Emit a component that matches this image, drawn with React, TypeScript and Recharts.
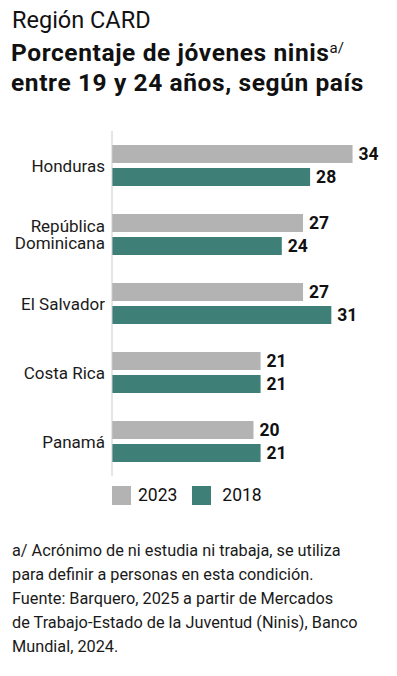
import React from 'react';
import { BarChart, Bar, XAxis, YAxis, LabelList } from 'recharts';

const countries = ['Honduras', 'República Dominicana', 'El Salvador', 'Costa Rica', 'Panamá'];
const values2023 = [34, 27, 27, 21, 20];
const values2018 = [28, 24, 31, 21, 21];
const seriesNames = ['2023', '2018'];

const GRAY = '#b3b3b3';
const TEAL = '#3e7f78';
const FONT = 'Roboto, "Noto Sans", sans-serif';

const chartData = countries.map((country, i) => ({
  country,
  y2023: values2023[i],
  y2018: values2018[i],
}));

function CountryTick(props: any) {
  const { x, y, payload } = props;
  const label: string = payload.value;
  const lines = label === 'República Dominicana' ? ['República', 'Dominicana'] : [label];
  const lineHeight = 16.5;
  const startY = y - ((lines.length - 1) * lineHeight) / 2;
  return (
    <text
      x={x}
      y={startY}
      textAnchor="end"
      dominantBaseline="central"
      fill="#1a1a1a"
      fontSize={17}
      fontFamily={FONT}
    >
      {lines.map((line, i) => (
        <tspan key={line} x={x} y={startY + i * lineHeight} dominantBaseline="central">
          {line}
        </tspan>
      ))}
    </text>
  );
}

export default function App() {
  return (
    <div
      style={{
        position: 'absolute',
        left: 0,
        top: 0,
        width: 397,
        height: 676,
        background: '#fff',
        fontFamily: FONT,
        color: '#111',
      }}
    >
      <div style={{ position: 'absolute', left: 12, top: 5, fontSize: 23.5, lineHeight: '30px' }}>
        Región CARD
      </div>
      <div
        style={{
          position: 'absolute',
          left: 11,
          top: 38,
          fontSize: 24.5,
          fontWeight: 700,
          lineHeight: '30px',
          letterSpacing: 0.6,
          whiteSpace: 'nowrap',
        }}
      >
        Porcentaje de jóvenes ninis
        <span style={{ fontSize: 15, fontWeight: 400, letterSpacing: 0, verticalAlign: 'top', lineHeight: '20px' }}>
          a/
        </span>
        <br />
        entre 19 y 24 años, según país
      </div>

      <div style={{ position: 'absolute', left: 0, top: 131 }}>
        <BarChart
          width={397}
          height={345}
          data={chartData}
          layout="vertical"
          margin={{ top: 0, right: 2, bottom: 0, left: 0 }}
          barCategoryGap={14}
          barGap={5}
        >
          <XAxis type="number" domain={[0, 40]} hide />
          <YAxis
            type="category"
            dataKey="country"
            width={112}
            axisLine={{ stroke: '#cccccc', strokeWidth: 1 }}
            tickLine={false}
            tickSize={0}
            tickMargin={7}
            interval={0}
            tick={<CountryTick />}
          />
          <Bar dataKey="y2023" name={seriesNames[0]} fill={GRAY} barSize={18} isAnimationActive={false}>
            <LabelList
              dataKey="y2023"
              position="right"
              offset={6}
              fill="#111"
              fontSize={17.5}
              fontWeight={700}
              fontFamily={FONT}
            />
          </Bar>
          <Bar dataKey="y2018" name={seriesNames[1]} fill={TEAL} barSize={18} isAnimationActive={false}>
            <LabelList
              dataKey="y2018"
              position="right"
              offset={6}
              fill="#111"
              fontSize={17.5}
              fontWeight={700}
              fontFamily={FONT}
            />
          </Bar>
        </BarChart>
      </div>

      <div style={{ position: 'absolute', left: 112, top: 485, display: 'flex', alignItems: 'center', fontSize: 17.5 }}>
        <span style={{ width: 19, height: 19, background: GRAY, display: 'inline-block' }} />
        <span style={{ marginLeft: 7, marginRight: 15 }}>{seriesNames[0]}</span>
        <span style={{ width: 19, height: 19, background: TEAL, display: 'inline-block' }} />
        <span style={{ marginLeft: 11 }}>{seriesNames[1]}</span>
      </div>

      <div
        style={{
          position: 'absolute',
          left: 12,
          top: 539,
          fontSize: 16.3,
          lineHeight: '24px',
          color: '#1a1a1a',
          whiteSpace: 'nowrap',
        }}
      >
        a/ Acrónimo de ni estudia ni trabaja, se utiliza
        <br />
        para definir a personas en esta condición.
        <br />
        Fuente: Barquero, 2025 a partir de Mercados
        <br />
        de Trabajo-Estado de la Juventud (Ninis), Banco
        <br />
        Mundial, 2024.
      </div>
    </div>
  );
}
